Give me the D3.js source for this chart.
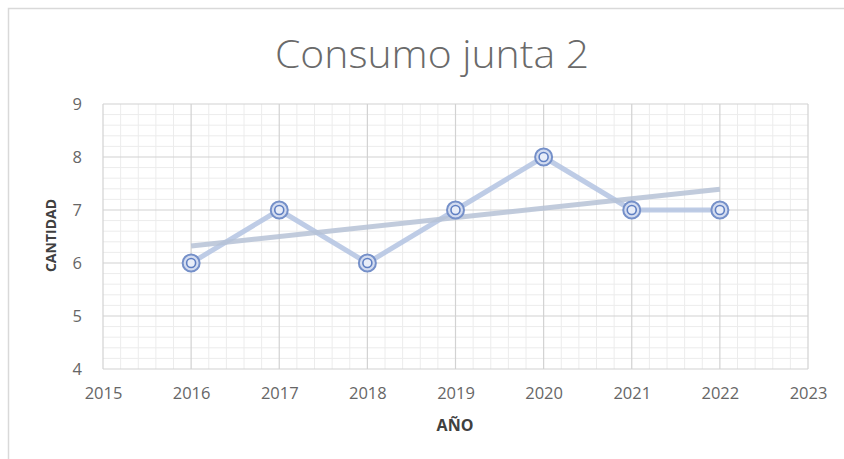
<!DOCTYPE html>
<html>
<head>
<meta charset="utf-8">
<script src="https://cdn.jsdelivr.net/npm/d3@7/dist/d3.min.js"></script>
<style>
  html, body { margin: 0; padding: 0; background: #ffffff; }
  svg { display: block; }
</style>
</head>
<body>
<svg id="chart" width="844" height="459"></svg>
<script>
// Consumption per year
const years = [2016, 2017, 2018, 2019, 2020, 2021, 2022];
const cantidad = [6, 7, 6, 7, 8, 7, 7];
const xTicks = [2015, 2016, 2017, 2018, 2019, 2020, 2021, 2022, 2023];
const yTicks = [4, 5, 6, 7, 8, 9];
const titleText = "Consumo junta 2";
const xTitle = "AÑO";
const yTitle = "CANTIDAD";

const svg = d3.select("#chart");
const W = 844, H = 459;
const plot = { left: 103, right: 808, top: 104, bottom: 369 };

const x = d3.scaleLinear().domain([2015, 2023]).range([plot.left, plot.right]);
const y = d3.scaleLinear().domain([4, 9]).range([plot.bottom, plot.top]);

// chart frame
svg.append("rect")
  .attr("x", 8.5).attr("y", 8.5)
  .attr("width", W).attr("height", H)
  .attr("fill", "#ffffff")
  .attr("stroke", "#d9d9d9").attr("stroke-width", 1.5);

// title
svg.append("text")
  .attr("x", 432).attr("y", 68)
  .attr("text-anchor", "middle")
  .attr("font-family", "'Open Sans', sans-serif")
  .attr("font-weight", 300)
  .attr("font-size", 38)
  .attr("textLength", 314).attr("lengthAdjust", "spacingAndGlyphs")
  .attr("fill", "#6a6a6a")
  .text(titleText);

// minor gridlines (one fifth of a major unit)
const minorX = d3.range(2015, 2023.001, 0.2).filter(v => Math.abs(v - Math.round(v)) > 1e-6);
const minorY = d3.range(4, 9.001, 0.2).filter(v => Math.abs(v - Math.round(v)) > 1e-6);
const grid = svg.append("g");
grid.selectAll("line.mx").data(minorX).join("line")
  .attr("x1", d => x(d)).attr("x2", d => x(d))
  .attr("y1", plot.top).attr("y2", plot.bottom)
  .attr("stroke", "#ececec").attr("stroke-width", 1);
grid.selectAll("line.my").data(minorY).join("line")
  .attr("y1", d => y(d)).attr("y2", d => y(d))
  .attr("x1", plot.left).attr("x2", plot.right)
  .attr("stroke", "#ececec").attr("stroke-width", 1);

// major gridlines
grid.selectAll("line.Mx").data(xTicks).join("line")
  .attr("x1", d => x(d)).attr("x2", d => x(d))
  .attr("y1", plot.top).attr("y2", plot.bottom)
  .attr("stroke", "#d2d2d2").attr("stroke-width", 1.2);
grid.selectAll("line.My").data(yTicks).join("line")
  .attr("y1", d => y(d)).attr("y2", d => y(d))
  .attr("x1", plot.left).attr("x2", plot.right)
  .attr("stroke", "#d2d2d2").attr("stroke-width", 1.2);

// axes (labels only)
const xAxis = svg.append("g")
  .attr("transform", `translate(0,${plot.bottom})`)
  .call(d3.axisBottom(x).tickValues(xTicks).tickFormat(d3.format("d")).tickSize(0).tickPadding(18));
const yAxis = svg.append("g")
  .attr("transform", `translate(${plot.left},0)`)
  .call(d3.axisLeft(y).tickValues(yTicks).tickFormat(d3.format("d")).tickSize(0).tickPadding(21));
[xAxis, yAxis].forEach(g => {
  g.select(".domain").remove();
  g.selectAll("text")
    .attr("font-family", "'Open Sans', sans-serif")
    .attr("font-size", 16.5)
    .attr("fill", "#666666");
});

// axis titles
svg.append("text")
  .attr("x", 455).attr("y", 431)
  .attr("text-anchor", "middle")
  .attr("font-family", "'Open Sans', sans-serif")
  .attr("font-size", 16).attr("font-weight", "bold")
  .attr("fill", "#404040")
  .text(xTitle);
svg.append("text")
  .attr("transform", `translate(56,${(plot.top + plot.bottom) / 2 - 1}) rotate(-90)`)
  .attr("text-anchor", "middle")
  .attr("font-family", "'Open Sans', sans-serif")
  .attr("font-size", 14).attr("font-weight", "bold")
  .attr("fill", "#404040")
  .text(yTitle);

const pts = years.map((yr, i) => ({ yr, v: cantidad[i] }));

// data line
svg.append("path")
  .datum(pts)
  .attr("d", d3.line().x(d => x(d.yr)).y(d => y(d.v)))
  .attr("fill", "none")
  .attr("stroke", "#b3c3e2").attr("stroke-width", 5)
  .attr("stroke-linejoin", "round").attr("stroke-opacity", 0.85);

// linear trend (least squares)
const mx = d3.mean(years), my = d3.mean(cantidad);
const slope = d3.sum(years, (v, i) => (v - mx) * (cantidad[i] - my)) / d3.sum(years, v => (v - mx) ** 2);
const trend = [years[0], years[years.length - 1]].map(v => ({ yr: v, v: my + slope * (v - mx) }));
svg.append("path")
  .datum(trend)
  .attr("d", d3.line().x(d => x(d.yr)).y(d => y(d.v)))
  .attr("fill", "none")
  .attr("stroke", "#b6c2d6").attr("stroke-width", 5)
  .attr("stroke-opacity", 0.85);

// markers
const mk = svg.append("g").selectAll("g").data(pts).join("g")
  .attr("transform", d => `translate(${x(d.yr)},${y(d.v)})`);
mk.append("circle").attr("r", 8.5)
  .attr("fill", "#d3dcf0").attr("stroke", "#7590c9").attr("stroke-width", 2);
mk.append("circle").attr("r", 4.5)
  .attr("fill", "#e8edf8").attr("stroke", "#5f7fc2").attr("stroke-width", 1.6);
</script>
</body>
</html>
